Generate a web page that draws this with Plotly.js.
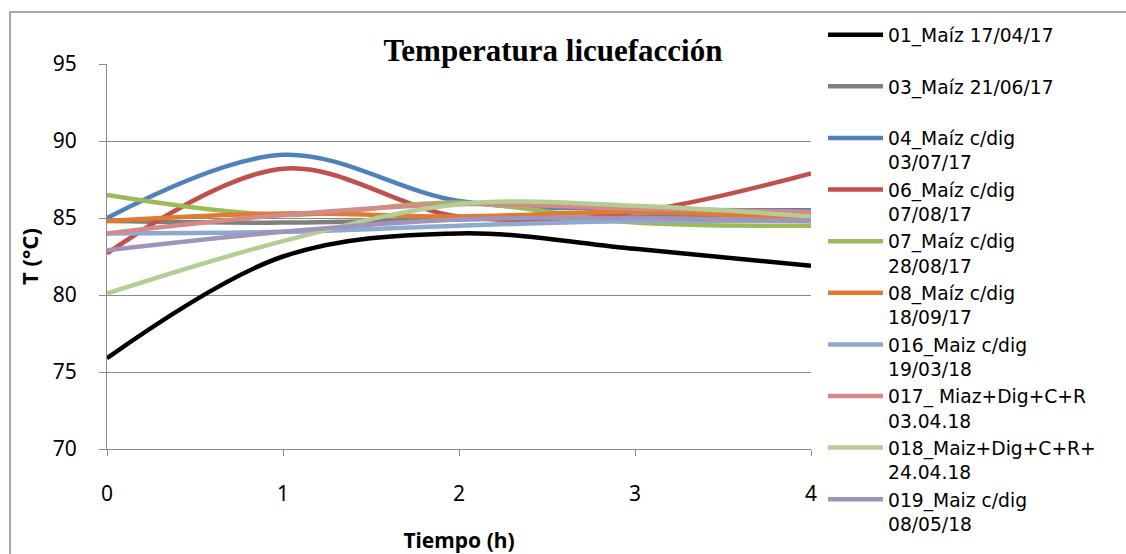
<!DOCTYPE html>
<html>
<head>
<meta charset="utf-8">
<script src="https://cdn.plot.ly/plotly-3.0.1.min.js"></script>
<style>html,body{margin:0;padding:0;background:#fff;}#chart{width:1126px;height:554px;}</style>
</head>
<body>
<div id="chart"></div>
<script>
const tiempo = [0, 1, 2, 3, 4];
const seriesNames = [
  "01_Maíz 17/04/17<br> ",
  "03_Maíz 21/06/17<br> ",
  "04_Maíz c/dig<br>03/07/17",
  "06_Maíz c/dig<br>07/08/17",
  "07_Maíz c/dig<br>28/08/17",
  "08_Maíz c/dig<br>18/09/17",
  "016_Maiz c/dig<br>19/03/18",
  "017_ Miaz+Dig+C+R<br>03.04.18",
  "018_Maiz+Dig+C+R+<br>24.04.18",
  "019_Maiz c/dig<br>08/05/18"
];
const s01 = [75.9, 82.5, 84.0, 83.0, 81.9];
const s03 = [84.8, 84.7, 84.9, 85.1, 85.2];
const s04 = [85.0, 89.1, 86.1, 85.6, 85.5];
const s06 = [82.7, 88.2, 85.1, 85.4, 87.9];
const s07 = [86.5, 85.2, 86.0, 84.7, 84.5];
const s08 = [84.8, 85.3, 85.1, 85.4, 84.9];
const s016 = [84.0, 84.1, 84.5, 84.8, 84.8];
const s017 = [84.0, 85.2, 85.9, 85.6, 85.4];
const s018 = [80.1, 83.5, 85.9, 85.8, 85.1];
const s019 = [82.9, 84.1, 84.9, 85.0, 84.8];
const allSeries = [s01, s03, s04, s06, s07, s08, s016, s017, s018, s019];
const colors = ["#000000", "#808080", "#4F81BD", "#C0504D", "#9BBB59", "#E07B30", "#8EA9D0", "#D38A89", "#B4CD94", "#A093BC"];

const traces = allSeries.map((ys, i) => ({
  x: tiempo, y: ys, name: seriesNames[i], type: "scatter", mode: "lines",
  line: {color: colors[i], width: 4.5, shape: "spline", smoothing: 1}
}));

const gray = "#8a8a8a";
const layout = {
  width: 1126, height: 554,
  margin: {l: 107, r: 315, t: 64, b: 105},
  paper_bgcolor: "#ffffff", plot_bgcolor: "#ffffff",
  font: {family: "Noto Sans, sans-serif", color: "#000"},
  title: {text: "<b>Temperatura licuefacción</b>", xref: "container", yref: "container",
          x: 553/1126, y: 1 - 50/554, xanchor: "center", yanchor: "middle",
          font: {family: "Liberation Serif, serif", size: 31, color: "#000"}},
  xaxis: {range: [0, 4], tickvals: [0,1,2,3,4], ticktext: ["0","1","2","3","4"],
          showgrid: false, zeroline: false, showline: true, linecolor: gray, linewidth: 1,
          ticks: "outside", ticklen: 6, tickcolor: gray, ticklabelstandoff: 20,
          tickfont: {size: 21},
          title: {text: "<b>Tiempo (h)</b>", font: {size: 21}, standoff: 28}},
  yaxis: {range: [70, 95], tickvals: [70,75,80,85,90,95],
          showgrid: true, gridcolor: gray, gridwidth: 1, zeroline: false,
          showline: true, linecolor: gray, linewidth: 1,
          ticks: "outside", ticklen: 7, tickcolor: gray, ticklabelstandoff: 18,
          tickfont: {size: 21},
          title: {text: "<b>T (°C)</b>", font: {size: 22}, standoff: 8}},
  legend: {xref: "container", yref: "container", x: 823/1126, y: 1 - 16/554,
           xanchor: "left", yanchor: "top", valign: "top", maxheight: 545,
           font: {family: "DejaVu Sans, sans-serif", size: 18.7, color: "#000"}, itemwidth: 55, tracegroupgap: 0,
           bgcolor: "rgba(0,0,0,0)"},
  shapes: [{type: "rect", xref: "paper", yref: "paper",
            x0: (10-107)/704, x1: (1140-107)/704, y0: (449-570)/385, y1: (449-12)/385,
            line: {color: gray, width: 1.5}, layer: "below"}],
  showlegend: true
};
Plotly.newPlot("chart", traces, layout, {displayModeBar: false, staticPlot: true});
</script>
</body>
</html>
